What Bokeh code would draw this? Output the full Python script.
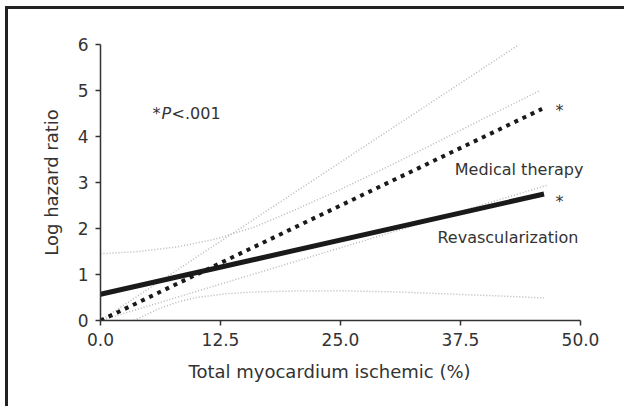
from bokeh.plotting import figure
from bokeh.models import Range1d, Label, FixedTicker, Title
from bokeh.embed import file_html
from bokeh.resources import INLINE

# ---- data ----
x_ticks = [0.0, 12.5, 25.0, 37.5, 50.0]
x_tick_labels = ["0.0", "12.5", "25.0", "37.5", "50.0"]
y_ticks = [0, 1, 2, 3, 4, 5, 6]

# Medical therapy (estimate and 95% CI)
med_x = [0.0, 46.0]
med_y = [0.0, 4.6]
med_upper_x = [0.0, 43.6]
med_upper_y = [0.0, 6.0]
med_lower_x = [0.0, 46.5]
med_lower_y = [0.0, 2.94]

# Revascularization (estimate and 95% CI)
rev_x = [0.0, 46.2]
rev_y = [0.57, 2.75]
rev_upper_x = [0, 4, 8, 12, 16, 20, 25, 30, 35, 40, 45.8]
rev_upper_y = [1.45, 1.50, 1.60, 1.77, 2.03, 2.38, 2.85, 3.35, 3.87, 4.40, 5.0]
rev_lower_x = [3.5, 6, 8, 10, 13, 16, 20, 25, 31, 37, 42, 46.2]
rev_lower_y = [0.0, 0.25, 0.40, 0.50, 0.58, 0.62, 0.64, 0.645, 0.62, 0.57, 0.53, 0.49]

FONT = "DejaVu Sans"
TXT = "#333333"
AX = "#333333"

# frame 500px wide; axis 0..50 occupies the first 480px
X_END = 50 * 500 / 480

p = figure(width=616, height=400, output_backend="svg", toolbar_location=None,
           x_range=Range1d(0, X_END), y_range=Range1d(0, 6),
           min_border_left=92, min_border_right=24, min_border_top=35, min_border_bottom=89)
p.styles = {"margin-left": "8px", "margin-top": "9px",
            "box-shadow": "-3px -3px 0px 0px #222222, 3px -3px 0px 0px #222222"}
p.outline_line_color = None
p.grid.visible = False
p.background_fill_color = "white"
p.border_fill_color = "white"

# axes
p.xaxis.ticker = FixedTicker(ticks=x_ticks)
p.xaxis.major_label_overrides = {t: l for t, l in zip(x_ticks, x_tick_labels)}
p.xaxis.bounds = (0, 50)
p.yaxis.ticker = FixedTicker(ticks=y_ticks)
p.yaxis.axis_label = "Log hazard ratio"
for ax in (p.xaxis, p.yaxis):
    ax.axis_line_color = AX
    ax.axis_line_width = 1.5
    ax.major_tick_line_color = AX
    ax.major_tick_line_width = 1.5
    ax.major_tick_out = 5
    ax.major_tick_in = 0
    ax.minor_tick_line_color = None
    ax.major_label_text_font = FONT
    ax.major_label_text_font_size = "17px"
    ax.major_label_text_color = TXT
    ax.axis_label_text_font = FONT
    ax.axis_label_text_font_size = "18px"
    ax.axis_label_text_font_style = "normal"
    ax.axis_label_text_color = TXT
p.yaxis.major_label_standoff = 7
p.yaxis.axis_label_standoff = 13
p.xaxis.major_label_standoff = 7

# x-axis title (placed below the axis, left-aligned with an offset)
p.add_layout(Title(text="Total myocardium ischemic (%)", align="left", offset=88,
                   text_font=FONT, text_font_size="18px", text_font_style="normal",
                   text_color=TXT, standoff=20), "below")

# CI lines
ci = dict(line_color="#b8b8b8", line_width=1.5, line_dash="1 2")
p.line(med_upper_x, med_upper_y, **ci)
p.line(med_lower_x, med_lower_y, **ci)
p.line(rev_upper_x, rev_upper_y, **ci)
p.line(rev_lower_x, rev_lower_y, **ci)

# estimates
p.line(rev_x, rev_y, line_color="#1a1a1a", line_width=5, line_cap="butt")
p.line(med_x, med_y, line_color="#1a1a1a", line_width=4, line_dash="4 5", line_cap="butt")

def lab(x, y, text, style="normal", align="left", base="alphabetic", xo=0):
    p.add_layout(Label(x=x, y=y, text=text, text_font=FONT, text_font_size="16px",
                       text_font_style=style, text_color=TXT, text_align=align,
                       text_baseline=base, x_offset=xo))

lab(5.42, 4.49, "*")
lab(5.42, 4.49, "P", style="italic", xo=9)
lab(5.42, 4.49, "<.001", xo=19)
lab(36.9, 3.29, "Medical therapy")
lab(35.1, 1.80, "Revascularization")
lab(47.4, 4.56, "*")
lab(47.4, 2.59, "*")

open("out.html", "w").write(file_html(p, INLINE))
